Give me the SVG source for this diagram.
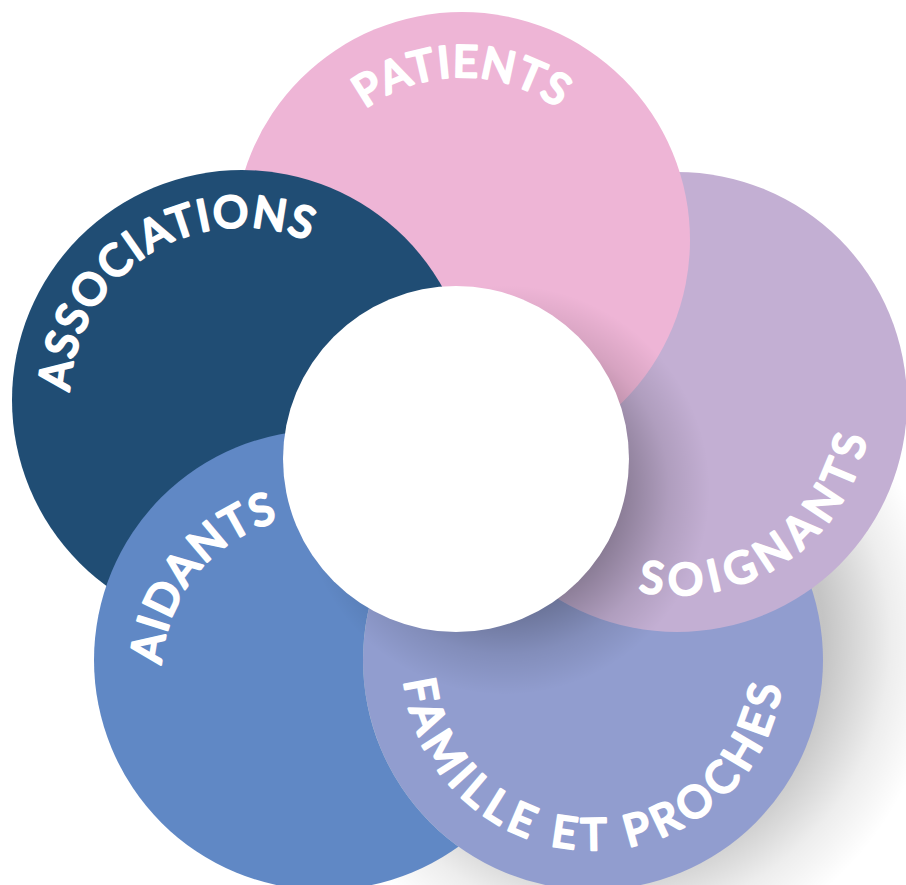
<svg xmlns="http://www.w3.org/2000/svg" width="906" height="885" viewBox="0 0 906 885">
<style>
.lbl{font-family:"Lato","Noto Sans",sans-serif;font-size:44px;font-weight:500;fill:#fff;stroke:#fff;stroke-width:2.4px;stroke-linejoin:round;text-anchor:middle}
</style>
<defs>
<radialGradient id="sh" gradientUnits="userSpaceOnUse" cx="505" cy="490" r="205">
<stop offset="0.55" stop-color="#000" stop-opacity="0.3"/>
<stop offset="0.8" stop-color="#000" stop-opacity="0.1"/>
<stop offset="1" stop-color="#000" stop-opacity="0"/>
</radialGradient>
<radialGradient id="bgsh" gradientUnits="userSpaceOnUse" cx="610" cy="640" r="330">
<stop offset="0.65" stop-color="#000" stop-opacity="0.23"/>
<stop offset="0.85" stop-color="#000" stop-opacity="0.07"/>
<stop offset="1" stop-color="#000" stop-opacity="0"/>
</radialGradient>
<clipPath id="notFamille"><path clip-rule="evenodd" d="M0 0H906V885H0Z M363 660a230 230 0 1 0 460 0a230 230 0 1 0 -460 0Z"/></clipPath>
<path id="pPatients" d="M299 240A163 163 0 0 1 625 240"/>
<path id="pAssoc" d="M100 497A172 172 0 0 1 382 300"/>
<path id="pAidants" d="M214.7 793A159 159 0 0 1 423.3 553"/>
<path id="pSoign" d="M518.9 512.7A193 193 0 0 0 835.1 291.3"/>
<path id="pFam" d="M403 660A190 190 0 0 0 783 660"/>
</defs>
<rect width="906" height="885" fill="#fff"/>
<circle id="background-shadow" cx="610" cy="640" r="330" fill="url(#bgsh)"/>
<g id="famille">
<circle cx="593" cy="660" r="230" fill="#919dcf"/>
<circle cx="593" cy="660" r="230" fill="url(#sh)"/>
<text class="lbl" letter-spacing="5.8"><textPath href="#pFam" startOffset="50%">FAMILLE ET PROCHES</textPath></text>
</g>
<g id="soignants">
<circle cx="677" cy="402" r="230" fill="#c3afd3"/>
<circle cx="677" cy="402" r="230" fill="url(#sh)"/>
<text class="lbl" letter-spacing="6.9"><textPath href="#pSoign" startOffset="50%">SOIGNANTS</textPath></text>
</g>
<g id="patients">
<circle cx="462" cy="240" r="228" fill="#eeb5d6"/>
<circle cx="462" cy="240" r="228" fill="url(#sh)"/>
<text class="lbl" letter-spacing="1.1"><textPath href="#pPatients" startOffset="50%">PATIENTS</textPath></text>
</g>
<g id="associations">
<circle cx="242" cy="400" r="230" fill="#204d74"/>
<text class="lbl" letter-spacing="1.6"><textPath href="#pAssoc" startOffset="51.6%">ASSOCIATIONS</textPath></text>
</g>
<g id="aidants" clip-path="url(#notFamille)">
<circle cx="324" cy="660" r="230" fill="#6088c5"/>
<circle cx="324" cy="660" r="230" fill="url(#sh)"/>
<text class="lbl" letter-spacing="1.5"><textPath href="#pAidants" startOffset="49%">AIDANTS</textPath></text>
</g>
<g id="centre">
<circle cx="456" cy="459" r="173" fill="#fff"/>
</g>
</svg>
